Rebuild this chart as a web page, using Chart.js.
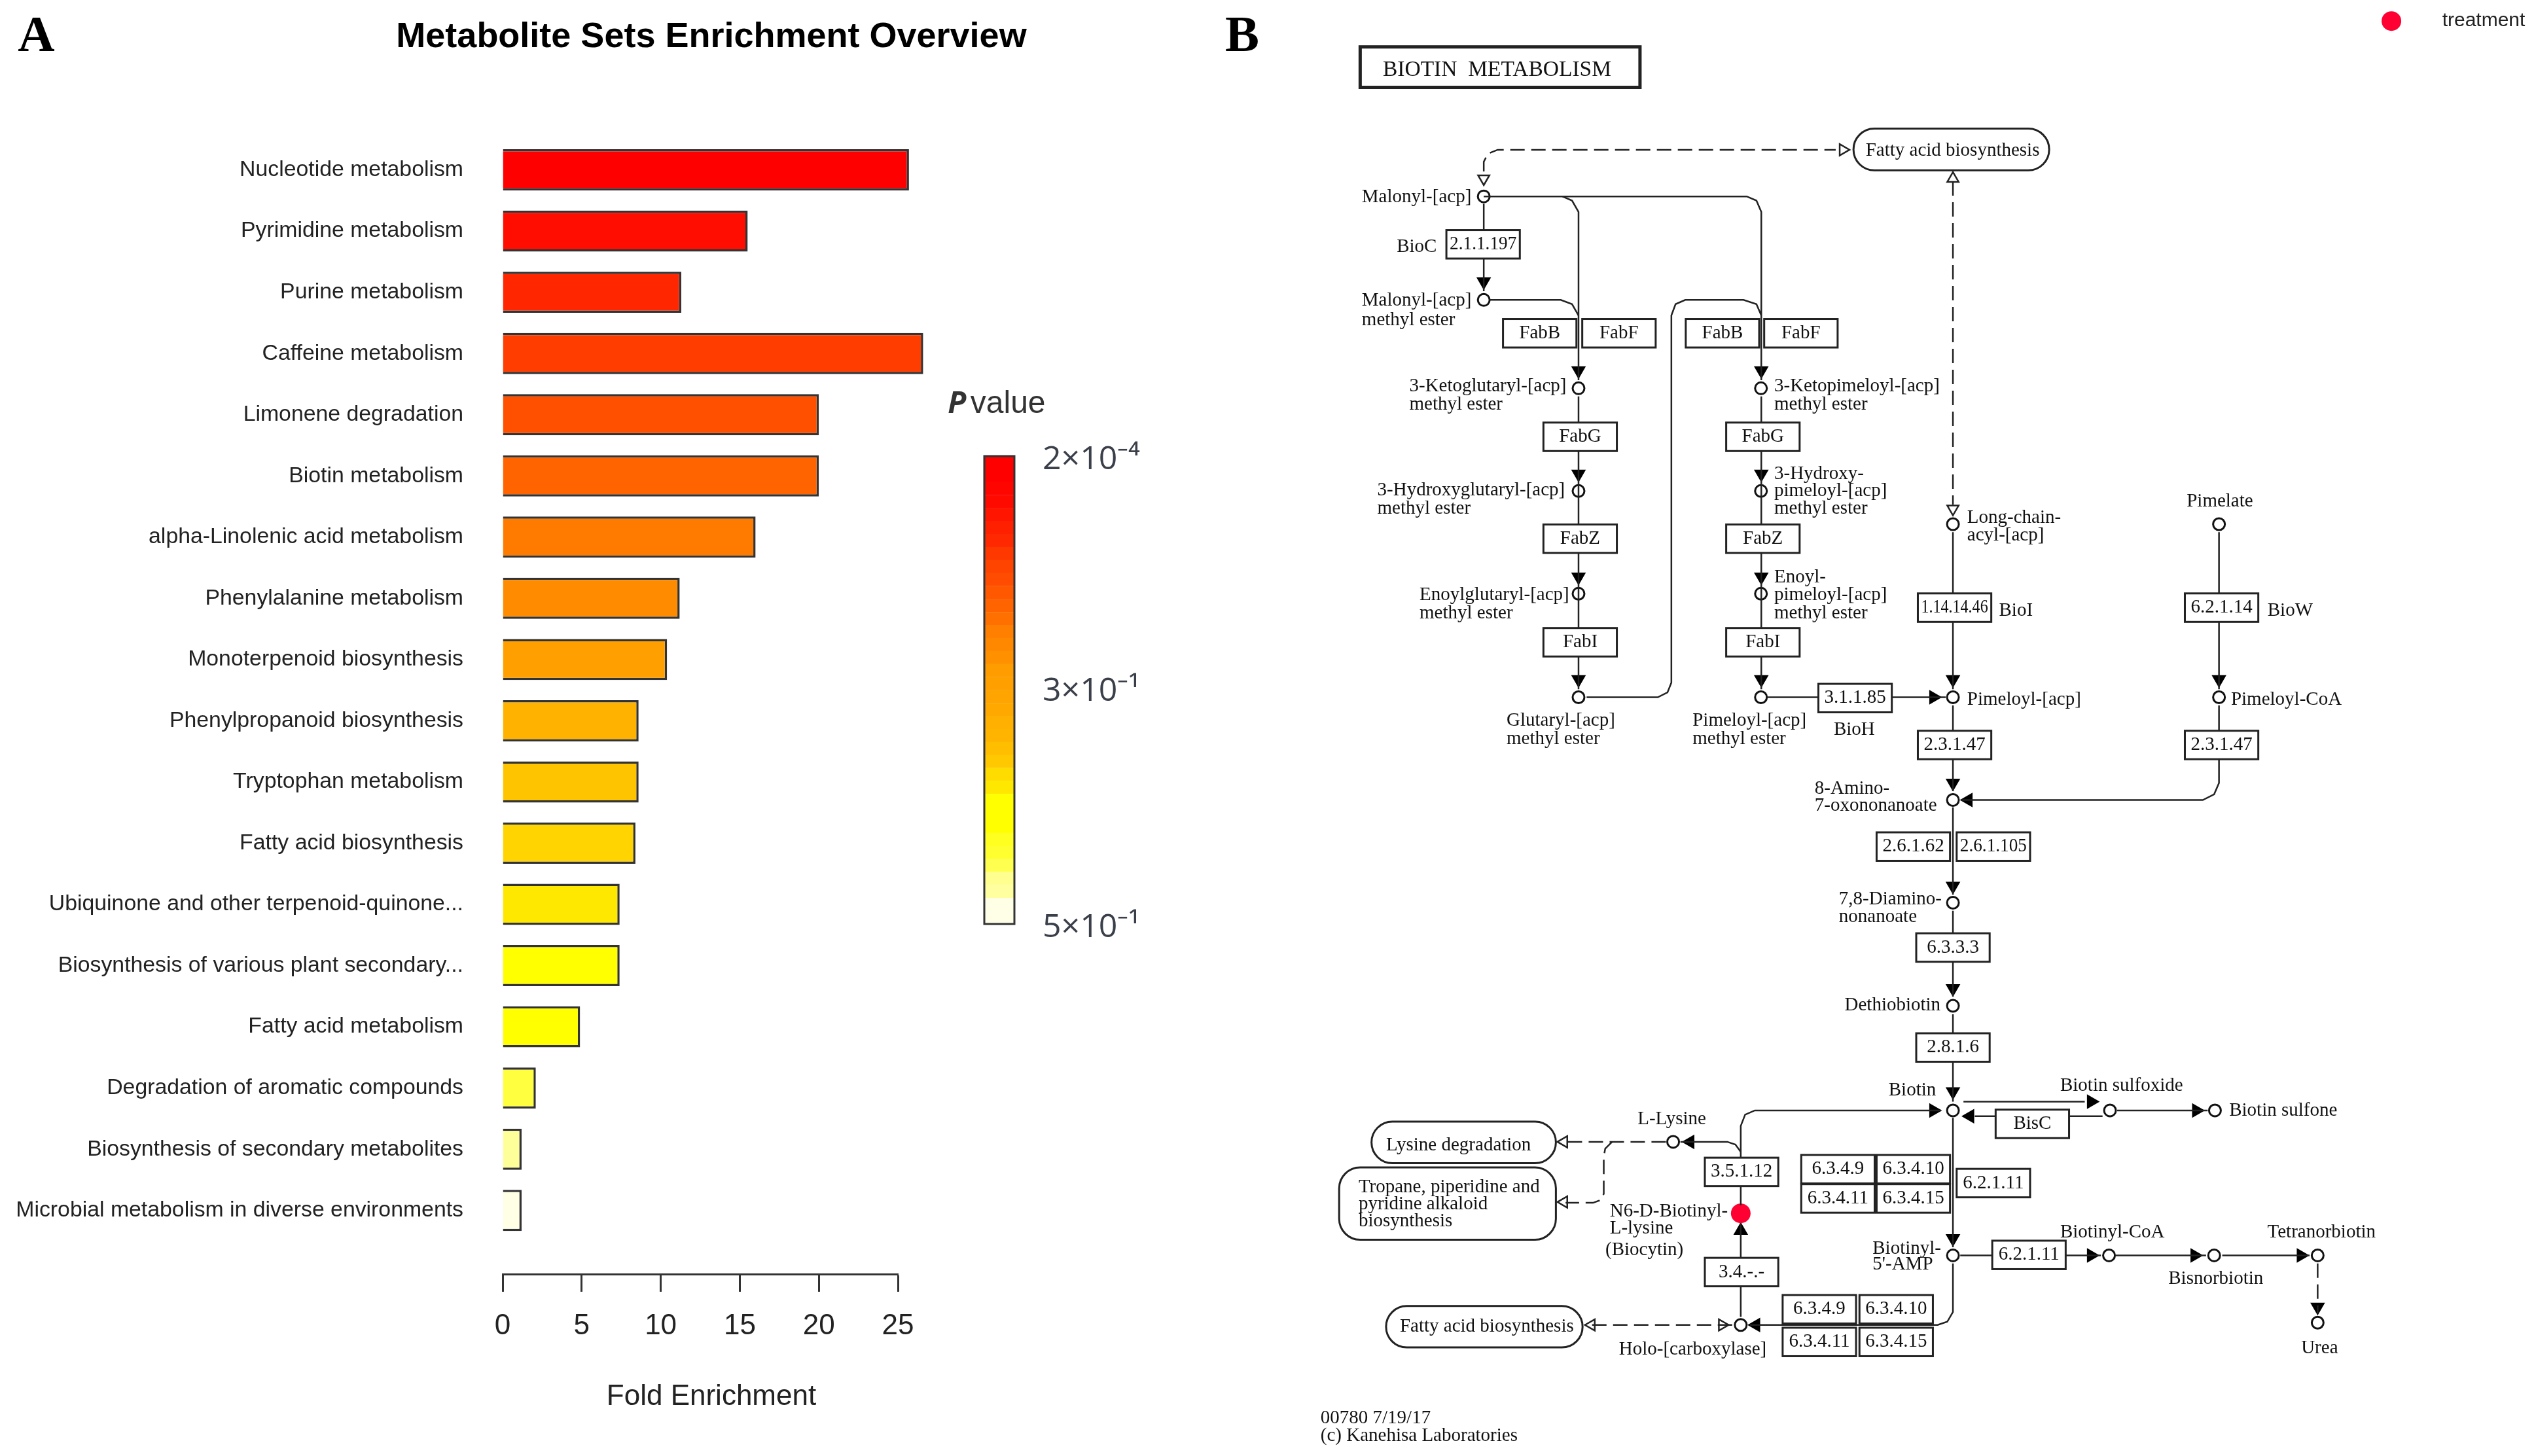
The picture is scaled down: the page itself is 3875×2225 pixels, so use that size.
<!DOCTYPE html>
<html>
<head>
<meta charset="utf-8">
<title>Metabolite Sets Enrichment Overview</title>
<script src="https://cdn.jsdelivr.net/npm/chart.js@4/dist/chart.umd.min.js"></script>
<style>
  html, body { margin: 0; padding: 0; background: #fff; }
  canvas { position: absolute; }
</style>
</head>
<body>
<canvas id="barChart" width="2174" height="2225" style="left:0px;top:0px"></canvas>
<canvas id="scaleChart" width="400" height="900" style="left:1440px;top:600px"></canvas>
<canvas id="mapChart" width="3875" height="2225" style="left:0px;top:0px"></canvas>
<script>
// panel A
const setNames = ['Nucleotide metabolism', 'Pyrimidine metabolism', 'Purine metabolism', 'Caffeine metabolism',
  'Limonene degradation', 'Biotin metabolism', 'alpha-Linolenic acid metabolism', 'Phenylalanine metabolism',
  'Monoterpenoid biosynthesis', 'Phenylpropanoid biosynthesis', 'Tryptophan metabolism', 'Fatty acid biosynthesis',
  'Ubiquinone and other terpenoid-quinone...', 'Biosynthesis of various plant secondary...', 'Fatty acid metabolism',
  'Degradation of aromatic compounds', 'Biosynthesis of secondary metabolites', 'Microbial metabolism in diverse environments'];
const foldEnrichment = [25.7, 15.5, 11.3, 26.6, 20, 20, 16, 11.2, 10.4, 8.6, 8.6, 8.4, 7.4, 7.4, 4.9, 2.1, 1.2, 1.2];
const barColors = ['#ff0000', '#ff0d00', '#ff2600', '#ff3d00', '#ff5000', '#ff6400', '#ff7b00', '#ff8c00', '#ffa000',
  '#ffb300', '#ffc400', '#ffd400', '#ffe800', '#ffff00', '#ffff00', '#ffff40', '#ffff99', '#ffffe6'];

// colour key, top to bottom
const keyColors = ['#ff0000', '#ff0000', '#ff0500', '#ff0a00', '#ff1500', '#ff2000', '#ff2800', '#ff3800', '#ff4400',
  '#ff4c00', '#ff5800', '#ff6400', '#ff7000', '#ff8000', '#ff8800', '#ff9000', '#ff9c00', '#ffa000', '#ffa400',
  '#ffa800', '#ffb000', '#ffb400', '#ffbe00', '#ffc800', '#ffdc00', '#ffe800', '#ffff00', '#ffff00', '#ffff00',
  '#ffff20', '#ffff30', '#ffff50', '#ffff90', '#ffffa0', '#ffffe6', '#ffffe8'];
const keyTicks = [0, 17.8, 36];
const keyTickLabels = ['2×10⁻⁴', '3×10⁻¹', '5×10⁻¹'];

// panel B, everything in map units (1568 x 900 sheet)
const metabolites = [[917.4, 121.4], [917.4, 185.4], [976, 240], [1088.8, 240], [976, 303.5], [1088.8, 303.5],
  [976, 367], [1088.8, 367], [976, 431], [1088.8, 431], [1207.5, 431], [1207.5, 324], [1372, 324], [1372, 431],
  [1207.5, 494.5], [1207.5, 558], [1207.5, 621.7], [1207.5, 686.4], [1304.6, 686.4], [1369.5, 686.4],
  [1034.5, 705.8], [1207.5, 776], [1304, 776], [1369, 776], [1433, 776], [1433, 817.6], [1076.3, 819]];
const treatmentPoints = [[1076.3, 750], [1478.6, 13]];

const solidEdges = [
  [[917.4, 121.4], [1080, 121.4], [1086, 124], [1089, 131], [1089, 235]],
  [[966, 121.4], [972, 124], [976, 131], [976, 235]],
  [[917.4, 126], [917.4, 180]],
  [[921, 185.4], [965, 185.4], [972, 188], [976, 195]],
  [[976, 245], [976, 426]],
  [[1089, 245], [1089, 426]],
  [[981, 431], [1025, 431], [1031, 428], [1033.4, 422], [1033.4, 195], [1036, 188], [1042, 185.4], [1078, 185.4], [1086, 188], [1089, 195]],
  [[1093, 431], [1203, 431]],
  [[1207.5, 329], [1207.5, 426]],
  [[1372, 329], [1372, 426]],
  [[1207.5, 436], [1207.5, 489]],
  [[1372, 436], [1372, 484], [1369, 491], [1362, 494.5], [1213, 494.5]],
  [[1207.5, 499], [1207.5, 553]],
  [[1207.5, 563], [1207.5, 616]],
  [[1207.5, 627], [1207.5, 681]],
  [[1207.5, 691], [1207.5, 771]],
  [[1214, 681], [1289, 681]],
  [[1300, 690], [1221, 690]],
  [[1309, 686.4], [1365, 686.4]],
  [[1076.3, 745], [1076.3, 696], [1079, 689], [1085, 686.4], [1200, 686.4]],
  [[1076.3, 712], [1073, 707.5], [1068, 705.8], [1039, 705.8]],
  [[1076.3, 814], [1076.3, 756]],
  [[1207.5, 781], [1207.5, 811], [1204, 817], [1198, 819], [1082, 819]],
  [[1212, 776], [1299, 776]],
  [[1308, 776], [1364, 776]],
  [[1374, 776], [1428, 776]]
];
const dashedEdges = [
  [[917.4, 106], [917.4, 100], [920, 95], [926, 92.6], [1135, 92.6]],
  [[1207.5, 112], [1207.5, 312]],
  [[1030, 705.8], [968, 705.8]],
  [[996.8, 705.8], [992.5, 710], [991.6, 715], [991.6, 738], [989, 742], [985, 743.5], [968, 743.5]],
  [[1071, 819], [983, 819]],
  [[1433, 781], [1433, 812]]
];
// x, y, direction in degrees
const solidArrows = [[917.4, 174, 180], [976, 229, 180], [976, 293, 180], [976, 356.6, 180], [976, 420, 180],
  [1089, 229, 180], [1089, 293, 180], [1089, 356.6, 180], [1089, 420, 180], [1195.5, 431, 90], [1207.5, 420, 180],
  [1372, 420, 180], [1207.5, 484, 180], [1217, 494.5, 270], [1207.5, 547.7, 180], [1207.5, 611, 180], [1207.5, 674.7, 180],
  [1207.5, 765.5, 180], [1293, 681, 90], [1218, 690, 270], [1358, 686.4, 90], [1195.5, 686.4, 90], [1045, 705.8, 270],
  [1076.3, 760.7, 0], [1085.7, 819, 270], [1293, 776, 90], [1357, 776, 90], [1422.7, 776, 90], [1433, 807.9, 180]];
const openArrows = [[917.4, 110.4, 180], [1139.5, 92.6, 90], [1207.5, 110.4, 0], [1207.5, 314.5, 180],
  [967, 705.8, 270], [967, 743, 270], [984, 819, 270], [1064.8, 819, 90]];

const enzymes = [['2.1.1.197', 917, 151], ['FabB', 952, 206], ['FabF', 1001, 206], ['FabB', 1065, 206], ['FabF', 1113.5, 206],
  ['FabG', 977, 270], ['FabG', 1090, 270], ['FabZ', 977, 333], ['FabZ', 1090, 333], ['FabI', 977, 397], ['FabI', 1090, 397],
  ['1.14.14.46', 1208.5, 375.6], ['6.2.1.14', 1373.6, 375.6], ['3.1.1.85', 1147, 431.5], ['2.3.1.47', 1208.5, 460.5],
  ['2.3.1.47', 1373.6, 460.5], ['2.6.1.62', 1183, 523.3], ['2.6.1.105', 1232.5, 523.3], ['6.3.3.3', 1207.5, 585.7],
  ['2.8.1.6', 1207.5, 647.5], ['BisC', 1256.6, 694.7], ['3.5.1.12', 1076.8, 724.4], ['6.3.4.9', 1136.4, 722.7],
  ['6.3.4.10', 1183, 722.7], ['6.3.4.11', 1136.4, 740.8], ['6.3.4.15', 1183, 740.8], ['6.2.1.11', 1232.5, 731.3],
  ['6.2.1.11', 1254.5, 775.7], ['3.4.-.-', 1076.8, 786.3], ['6.3.4.9', 1124.9, 809.3], ['6.3.4.10', 1172.4, 809.3],
  ['6.3.4.11', 1124.9, 829.5], ['6.3.4.15', 1172.4, 829.5]];

// left, top, right, bottom
const pathwayPills = [[1146, 79.5, 1267, 105.3], [848, 693.3, 962, 719], [828, 721.6, 962, 766.3], [857, 807.3, 978.5, 832.9]];

const mapLabels = [['Fatty acid biosynthesis', 1153.5, 93], ['Lysine degradation', 857, 708],
  ['Tropane, piperidine and', 840, 734], ['pyridine alkaloid', 840, 744.5], ['biosynthesis', 840, 755],
  ['Fatty acid biosynthesis', 865.5, 820],
  ['Malonyl-[acp]', 842, 122], ['BioC', 863.6, 152.8], ['Malonyl-[acp]', 842, 186], ['methyl ester', 842, 198],
  ['3-Ketoglutaryl-[acp]', 871.4, 239], ['methyl ester', 871.4, 250], ['3-Ketopimeloyl-[acp]', 1097, 239], ['methyl ester', 1097, 250],
  ['3-Hydroxyglutaryl-[acp]', 851.6, 303], ['methyl ester', 851.6, 314.5], ['3-Hydroxy-', 1097, 293], ['pimeloyl-[acp]', 1097, 303.5],
  ['methyl ester', 1097, 314.5], ['Enoylglutaryl-[acp]', 877.7, 368], ['methyl ester', 877.7, 379], ['Enoyl-', 1097, 357],
  ['pimeloyl-[acp]', 1097, 368], ['methyl ester', 1097, 379], ['Glutaryl-[acp]', 931.5, 445.6], ['methyl ester', 931.5, 457],
  ['Pimeloyl-[acp]', 1046.5, 445.6], ['methyl ester', 1046.5, 457], ['BioH', 1133.8, 451], ['Pimeloyl-[acp]', 1216.3, 432.6],
  ['Long-chain-', 1216.3, 320], ['acyl-[acp]', 1216.3, 331], ['BioI', 1236, 377.4], ['Pimelate', 1352, 310], ['BioW', 1402, 377.4],
  ['Pimeloyl-CoA', 1379.4, 432.6], ['8-Amino-', 1122, 487.5], ['7-oxononanoate', 1122, 498], ['7,8-Diamino-', 1137, 556],
  ['nonanoate', 1137, 566.8], ['Dethiobiotin', 1140.5, 621.5], ['Biotin', 1167.7, 674], ['Biotin sulfoxide', 1273.8, 671.4],
  ['Biotin sulfone', 1378.3, 686.7], ['L-Lysine', 1012.5, 692], ['N6-D-Biotinyl-', 995.3, 748.8], ['L-lysine', 995.3, 759.4],
  ['(Biocytin)', 992.6, 772.6], ['Biotinyl-', 1157.8, 771.8], ["5'-AMP", 1157.8, 781.5], ['Biotinyl-CoA', 1273.8, 762],
  ['Tetranorbiotin', 1401.9, 762], ['Bisnorbiotin', 1340.7, 790.7], ['Urea', 1422.8, 833.4], ['Holo-[carboxylase]', 1001, 834.2],
  ['00780 7/19/17', 816.5, 876.7], ['(c) Kanehisa Laboratories', 816.5, 887.8]];

const sheetLabels = [
  ['A', 11, 23.5, 'bold 78px "Liberation Serif"', '#000'],
  ['B', 757.5, 23.5, 'bold 78px "Liberation Serif"', '#000'],
  ['treatment', 1510, 13, '30px "Liberation Sans"', '#222'],
  ['P', 586, 250, 'italic bold 46px "Open Sans"', '#333'],
  ['value', 600, 250, '48px "Liberation Sans"', '#333'],
  ['BIOTIN  METABOLISM', 855, 43.5, '33.5px "Liberation Serif"', '#111']
];
const titleBox = [841, 29, 1014, 54];

const barChart = new Chart(document.getElementById('barChart'), {
  type: 'bar',
  data: {
    datasets: [{
      data: foldEnrichment.map((v, i) => ({ x: v, y: i })),
      backgroundColor: barColors,
      borderColor: '#333',
      borderWidth: 3.5,
      barPercentage: 0.673,
      categoryPercentage: 1,
      clip: false
    }]
  },
  options: {
    indexAxis: 'y',
    responsive: false,
    animation: false,
    devicePixelRatio: 1,
    plugins: {
      legend: { display: false },
      tooltip: { enabled: false },
      title: {
        display: true,
        text: 'Metabolite Sets Enrichment Overview',
        color: '#000',
        font: { family: '"Liberation Sans"', size: 54, weight: 'bold' },
        padding: { top: 24.6, bottom: 123.4 }
      },
      subtitle: {
        display: true,
        position: 'bottom',
        text: 'Fold Enrichment',
        color: '#222',
        font: { family: '"Liberation Sans"', size: 44 },
        padding: { top: 0, bottom: 63.6 }
      }
    },
    scales: {
      x: {
        type: 'linear',
        min: 0,
        max: 25,
        border: { color: '#333', width: 3 },
        grid: { drawOnChartArea: false, tickLength: 27, tickWidth: 3, tickColor: '#333' },
        ticks: { stepSize: 5, padding: 26, maxRotation: 0, color: '#222', font: { family: '"Liberation Sans"', size: 44 } },
        afterFit: s => { s.height = 161.6; }
      },
      y: {
        type: 'linear',
        offset: false,
        reverse: true,
        min: -0.5,
        max: 18.04,
        border: { display: false },
        grid: { display: false, drawTicks: false, tickLength: 0, offset: false },
        afterBuildTicks: s => { s.ticks = setNames.map((n, i) => ({ value: i })); },
        ticks: {
          autoSkip: false,
          padding: 60,
          color: '#222',
          font: { family: '"Liberation Sans"', size: 33.8 },
          callback: v => setNames[v]
        },
        afterFit: s => { s.width = 768; }
      },
      spare: {
        type: 'linear',
        position: 'right',
        border: { display: false },
        grid: { display: false },
        ticks: { display: false },
        afterFit: s => { s.width = 802; }
      }
    }
  }
});

const keyFrame = {
  id: 'keyFrame',
  afterDatasetsDraw(chart) {
    const a = chart.chartArea, ctx = chart.ctx;
    ctx.save();
    ctx.strokeStyle = '#333';
    ctx.lineWidth = 3;
    ctx.strokeRect(a.left, a.top, a.right - a.left, a.bottom - a.top);
    ctx.restore();
  }
};

const scaleChart = new Chart(document.getElementById('scaleChart'), {
  type: 'bar',
  data: {
    datasets: [{
      data: keyColors.map((c, i) => ({ x: 1, y: i + 0.5 })),
      backgroundColor: keyColors,
      borderWidth: 0,
      barPercentage: 1.02,
      categoryPercentage: 1
    }]
  },
  options: {
    indexAxis: 'y',
    responsive: false,
    animation: false,
    devicePixelRatio: 1,
    layout: { autoPadding: false, padding: { left: 64, top: 97, bottom: 88 } },
    plugins: { legend: { display: false }, tooltip: { enabled: false } },
    scales: {
      x: { type: 'linear', min: 0, max: 1, display: false },
      y: {
        type: 'linear',
        offset: false,
        position: 'right',
        reverse: true,
        min: 0,
        max: 36,
        border: { display: false },
        grid: { display: false, drawTicks: false, tickLength: 0, offset: false },
        afterBuildTicks: s => { s.ticks = keyTicks.map(v => ({ value: v })); },
        ticks: {
          autoSkip: false,
          padding: 43,
          labelOffset: 6,
          color: '#3a3f4a',
          font: { family: '"Open Sans"', size: 50 },
          callback: v => keyTickLabels[keyTicks.indexOf(v)]
        },
        afterFit: s => { s.width = 290; }
      }
    }
  },
  plugins: [keyFrame]
});

const mapDecor = {
  id: 'mapDecor',
  afterDatasetsDraw(chart) {
    const ctx = chart.ctx, sx = chart.scales.x, sy = chart.scales.y;
    const X = v => sx.getPixelForValue(v), Y = v => sy.getPixelForValue(v);
    ctx.save();
    ctx.strokeStyle = '#222';
    ctx.fillStyle = '#fff';
    ctx.lineWidth = 3;
    pathwayPills.forEach(p => {
      ctx.beginPath();
      ctx.roundRect(X(p[0]), Y(p[1]), X(p[2]) - X(p[0]), Y(p[3]) - Y(p[1]), 32);
      ctx.stroke();
    });
    ctx.textBaseline = 'middle';
    enzymes.forEach(e => {
      const w = X(e[1] + 22.7) - X(e[1] - 22.7), h = Y(e[2] + 8.8) - Y(e[2] - 8.8);
      ctx.fillStyle = '#fff';
      ctx.fillRect(X(e[1] - 22.7), Y(e[2] - 8.8), w, h);
      ctx.strokeRect(X(e[1] - 22.7), Y(e[2] - 8.8), w, h);
      ctx.fillStyle = '#111';
      ctx.textAlign = 'center';
      ctx.font = '29px "Liberation Serif"';
      ctx.fillText(e[0], X(e[1]), Y(e[2]), w - 10);
    });
    ctx.textAlign = 'left';
    ctx.fillStyle = '#111';
    ctx.font = '29px "Liberation Serif"';
    mapLabels.forEach(l => ctx.fillText(l[0], X(l[1]), Y(l[2])));
    sheetLabels.forEach(l => {
      ctx.font = l[3];
      ctx.fillStyle = l[4];
      ctx.fillText(l[0], X(l[1]), Y(l[2]));
    });
    ctx.lineWidth = 5;
    ctx.strokeRect(X(titleBox[0]), Y(titleBox[1]), X(titleBox[2]) - X(titleBox[0]), Y(titleBox[3]) - Y(titleBox[1]));
    ctx.restore();
  }
};

const pts = list => list.map(p => ({ x: p[0], y: p[1] }));
const edgeSet = (edge, dash) => ({
  type: 'scatter',
  data: pts(edge),
  showLine: true,
  borderColor: '#222',
  borderWidth: 2.5,
  borderDash: dash,
  pointRadius: 0,
  fill: false
});

const mapChart = new Chart(document.getElementById('mapChart'), {
  type: 'scatter',
  data: {
    datasets: [
      ...solidEdges.map(e => edgeSet(e, [])),
      ...dashedEdges.map(e => edgeSet(e, [22, 10])),
      {
        label: 'metabolites',
        data: pts(metabolites),
        pointStyle: 'circle',
        pointRadius: 9,
        pointBackgroundColor: '#fff',
        pointBorderColor: '#111',
        pointBorderWidth: 3
      },
      {
        label: 'treatment',
        data: pts(treatmentPoints),
        pointStyle: 'circle',
        pointRadius: 15,
        pointBackgroundColor: '#ff0033',
        pointBorderWidth: 0
      },
      {
        label: 'reaction',
        data: pts(solidArrows),
        pointStyle: 'triangle',
        pointRadius: 13,
        pointRotation: solidArrows.map(a => a[2]),
        pointBackgroundColor: '#000',
        pointBorderWidth: 0
      },
      {
        label: 'link',
        data: pts(openArrows),
        pointStyle: 'triangle',
        pointRadius: 10,
        pointRotation: openArrows.map(a => a[2]),
        pointBackgroundColor: '#fff',
        pointBorderColor: '#222',
        pointBorderWidth: 2.5
      }
    ]
  },
  options: {
    responsive: false,
    animation: false,
    devicePixelRatio: 1,
    layout: { autoPadding: false },
    plugins: { legend: { display: false }, tooltip: { enabled: false } },
    scales: {
      x: { type: 'linear', min: 0, max: 1568, display: false },
      y: { type: 'linear', min: 0, max: 900, reverse: true, display: false }
    }
  },
  plugins: [mapDecor]
});
</script>
</body>
</html>
